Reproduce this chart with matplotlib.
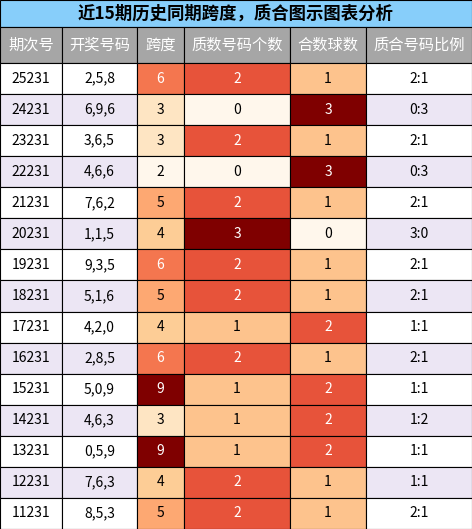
import matplotlib
matplotlib.use("Agg")
import matplotlib.pyplot as plt
from matplotlib.patches import Rectangle
from matplotlib import cm, colors

plt.rcParams['font.family'] = ['Noto Sans CJK SC', 'DejaVu Sans']

title = "近15期历史同期跨度，质合图示图表分析"
headers = ["期次号", "开奖号码", "跨度", "质数号码个数", "合数球数", "质合号码比例"]
periods = ["25231", "24231", "23231", "22231", "21231", "20231", "19231", "18231",
           "17231", "16231", "15231", "14231", "13231", "12231", "11231"]
draws = ["2,5,8", "6,9,6", "3,6,5", "4,6,6", "7,6,2", "1,1,5", "9,3,5", "5,1,6",
         "4,2,0", "2,8,5", "5,0,9", "4,6,3", "0,5,9", "7,6,3", "8,5,3"]
spans = [6, 3, 3, 2, 5, 4, 6, 5, 4, 6, 9, 3, 9, 4, 5]
primes = [2, 0, 2, 0, 2, 3, 2, 2, 1, 2, 1, 1, 1, 2, 2]
composites = [1, 3, 1, 3, 1, 0, 1, 1, 2, 1, 2, 2, 2, 1, 1]
ratios = ["2:1", "0:3", "2:1", "0:3", "2:1", "3:0", "2:1", "2:1",
          "1:1", "2:1", "1:1", "1:2", "1:1", "1:1", "2:1"]

W, H = 472, 529
xs = [0, 62, 137, 184, 290, 366, 472]
title_h, head_h = 27, 36
row_h = (H - title_h - head_h) / len(periods)

fig = plt.figure(figsize=(W / 100, H / 100), dpi=100)
ax = fig.add_axes([0, 0, 1, 1])
ax.set_xlim(0, W)
ax.set_ylim(H, 0)
ax.axis("off")

edge = dict(edgecolor="black", linewidth=0.8)
ax.add_patch(Rectangle((0, 0), W, title_h, facecolor="#87cefa", **edge))
ax.text(W / 2, title_h / 2, title, ha="center", va="center", fontsize=12.5, fontweight="bold")

for i, h in enumerate(headers):
    ax.add_patch(Rectangle((xs[i], title_h), xs[i + 1] - xs[i], head_h, facecolor="#a6a6a6", **edge))
    ax.text((xs[i] + xs[i + 1]) / 2, title_h + head_h / 2, h, ha="center", va="center",
            fontsize=11, color="white")

cmap = cm.get_cmap("OrRd") if hasattr(cm, "get_cmap") else matplotlib.colormaps["OrRd"]
num_cols = {2: (spans, colors.Normalize(min(spans), max(spans))),
            3: (primes, colors.Normalize(0, 3)),
            4: (composites, colors.Normalize(0, 3))}

for r in range(len(periods)):
    y = title_h + head_h + r * row_h
    bg = "white" if r % 2 == 0 else "#ece6f4"
    texts = [periods[r], draws[r], str(spans[r]), str(primes[r]), str(composites[r]), ratios[r]]
    for c in range(6):
        fc, tc = bg, "black"
        if c in num_cols:
            vals, norm = num_cols[c]
            v = norm(vals[r])
            fc = cmap(v)
            tc = "white" if v > 0.5 else "black"
        ax.add_patch(Rectangle((xs[c], y), xs[c + 1] - xs[c], row_h, facecolor=fc, **edge))
        ax.text((xs[c] + xs[c + 1]) / 2, y + row_h / 2, texts[c], ha="center", va="center",
                fontsize=10, color=tc)

fig.savefig("out.png", dpi=100)
